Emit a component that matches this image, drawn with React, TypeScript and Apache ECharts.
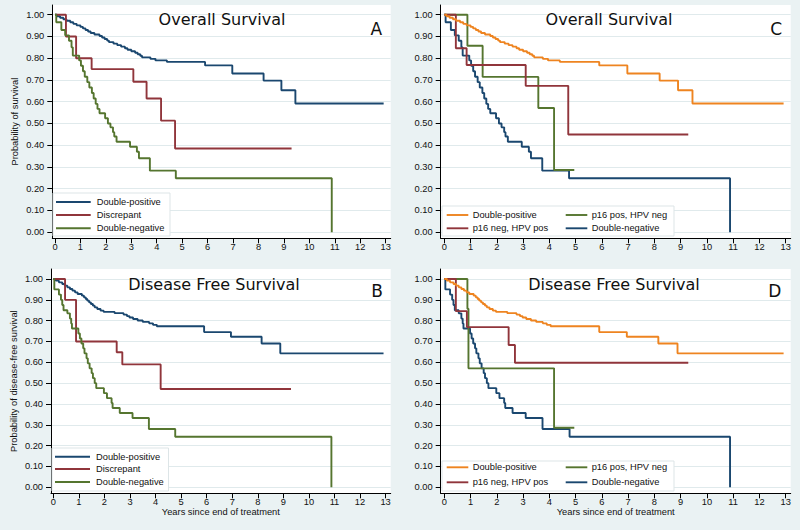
import React, { useEffect, useRef } from "react";
import * as echarts from "echarts";

// ---------- tick values ----------
const YEAR_TICKS = [0, 1, 2, 3, 4, 5, 6, 7, 8, 9, 10, 11, 12, 13];
const SURV_TICKS = [0, 0.1, 0.2, 0.3, 0.4, 0.5, 0.6, 0.7, 0.8, 0.9, 1.0];

// ---------- Overall survival (panels A and C) ----------
const osDoublePositive: [number, number][] = [
  [0, 1], [0.08, 0.993], [0.2, 0.986], [0.33, 0.979], [0.45, 0.972], [0.6, 0.965],
  [0.72, 0.958], [0.85, 0.951], [1.0, 0.944], [1.1, 0.937], [1.2, 0.93], [1.3, 0.923],
  [1.4, 0.916], [1.55, 0.909], [1.75, 0.902], [1.85, 0.895], [1.95, 0.888], [2.05, 0.881],
  [2.12, 0.874], [2.3, 0.867], [2.45, 0.86], [2.6, 0.853], [2.75, 0.846], [2.85, 0.839],
  [3.0, 0.832], [3.15, 0.825], [3.25, 0.818], [3.35, 0.811], [3.42, 0.804], [3.75, 0.797],
  [3.95, 0.79], [4.4, 0.783], [5.9, 0.767], [6.97, 0.73], [8.2, 0.697], [8.9, 0.653],
  [9.45, 0.592], [12.92, 0.592],
];
const osDiscrepant: [number, number][] = [
  [0, 1], [0.43, 0.9], [0.83, 0.8], [1.44, 0.75], [3.08, 0.692], [3.6, 0.615],
  [4.17, 0.513], [4.72, 0.385], [9.3, 0.385],
];
const osDoubleNegative: [number, number][] = [
  [0, 1], [0.05, 0.965], [0.25, 0.93], [0.4, 0.905], [0.55, 0.88], [0.65, 0.85],
  [0.7, 0.812], [0.95, 0.79], [1.02, 0.765], [1.1, 0.74], [1.17, 0.715], [1.27, 0.69],
  [1.35, 0.665], [1.45, 0.64], [1.52, 0.615], [1.6, 0.59], [1.67, 0.567], [1.75, 0.547],
  [1.97, 0.524], [2.08, 0.5], [2.18, 0.482], [2.28, 0.46], [2.33, 0.44], [2.42, 0.416],
  [2.95, 0.393], [3.22, 0.37], [3.3, 0.34], [3.73, 0.283], [4.75, 0.248], [10.88, 0],
];
const osP16NegHpvPos: [number, number][] = [
  [0, 1], [0.44, 0.846], [0.85, 0.769], [3.1, 0.673], [4.72, 0.449], [9.29, 0.449],
];
const osP16PosHpvNeg: [number, number][] = [
  [0, 1], [0.88, 0.857], [1.46, 0.714], [3.58, 0.571], [4.18, 0.286], [4.95, 0.286],
];

// ---------- Disease free survival (panels B and D) ----------
const dfsDoublePositive: [number, number][] = [
  [0, 1], [0.1, 0.992], [0.22, 0.984], [0.35, 0.976], [0.45, 0.968], [0.55, 0.96],
  [0.65, 0.952], [0.75, 0.944], [0.85, 0.936], [0.95, 0.928], [1.12, 0.92], [1.2, 0.912],
  [1.27, 0.904], [1.33, 0.896], [1.4, 0.888], [1.47, 0.88], [1.55, 0.872], [1.62, 0.864],
  [1.72, 0.856], [1.85, 0.848], [1.97, 0.842], [2.4, 0.836], [2.75, 0.829], [2.88, 0.822],
  [2.98, 0.815], [3.12, 0.808], [3.3, 0.801], [3.5, 0.794], [3.75, 0.787], [3.9, 0.78],
  [4.05, 0.773], [5.9, 0.745], [6.95, 0.723], [8.15, 0.69], [8.88, 0.643], [12.92, 0.643],
];
const dfsDiscrepant: [number, number][] = [
  [0, 1], [0.46, 0.9], [0.89, 0.7], [2.48, 0.648], [2.7, 0.59], [4.2, 0.472], [9.3, 0.472],
];
const dfsDoubleNegative: [number, number][] = [
  [0, 1], [0.04, 0.95], [0.22, 0.925], [0.3, 0.9], [0.35, 0.875], [0.4, 0.85],
  [0.55, 0.835], [0.65, 0.81], [0.7, 0.786], [0.73, 0.762], [0.98, 0.738], [1.04, 0.714],
  [1.1, 0.69], [1.17, 0.667], [1.22, 0.643], [1.3, 0.619], [1.35, 0.595], [1.42, 0.571],
  [1.5, 0.548], [1.55, 0.524], [1.62, 0.5], [1.68, 0.476], [1.98, 0.452], [2.1, 0.428],
  [2.28, 0.405], [2.32, 0.381], [2.6, 0.357], [3.1, 0.333], [3.74, 0.28], [4.77, 0.243],
  [10.88, 0],
];
const dfsP16NegHpvPos: [number, number][] = [
  [0, 1], [0.44, 0.846], [0.86, 0.769], [2.45, 0.683], [2.69, 0.598], [9.29, 0.598],
];
const dfsP16PosHpvNeg: [number, number][] = [
  [0, 1], [0.88, 0.857], [0.92, 0.571], [4.18, 0.286], [4.95, 0.286],
];

// ---------- labels ----------
const LABEL_DP = "Double-positive";
const LABEL_DISC = "Discrepant";
const LABEL_DN = "Double-negative";
const LABEL_NEG_POS = "p16 neg, HPV pos";
const LABEL_POS_NEG = "p16 pos, HPV neg";
const TITLE_OS = "Overall Survival";
const TITLE_DFS = "Disease Free Survival";
const X_TITLE = "Years since end of treatment";
const Y_TITLE_OS = "Probability of survival";
const Y_TITLE_DFS = "Probability of disease-free survival";

// ---------- styles ----------
const BG = "#eaf2f3";
const GRIDLINE = "#e0eaec";
const NAVY = "#1a476f";
const MAROON = "#90353b";
const GREEN = "#55752f";
const ORANGE = "#ee8420";
const INK = "#111111";
const SANS = "Liberation Sans";
const TITLE_FONT = "DejaVu Sans";
const FS = 9.3;
const LW = 1.9;

type Panel = {
  left: number; top: number; width: number; height: number;
  xMin: number; xMax: number; yMin: number; yMax: number;
  xName: string; yName: string;
};

const panels: Panel[] = [
  { left: 52.3, top: 5, width: 338.4, height: 233.3, xMin: -0.106, xMax: 13.197, yMin: -0.028, yMax: 1.0446, xName: "", yName: Y_TITLE_OS },
  { left: 440.7, top: 5, width: 350, height: 233.3, xMin: -0.137, xMax: 13.19, yMin: -0.028, yMax: 1.0446, xName: "", yName: "" },
  { left: 51, top: 269, width: 339.7, height: 224.3, xMin: -0.09, xMax: 13.2, yMin: -0.0288, yMax: 1.048, xName: X_TITLE, yName: Y_TITLE_DFS },
  { left: 440.7, top: 269, width: 350, height: 224.3, xMin: -0.137, xMax: 13.19, yMin: -0.0288, yMax: 1.048, xName: X_TITLE, yName: "" },
];

function makeSeries(name: string, data: [number, number][], color: string, idx: number) {
  return {
    type: "line",
    name,
    data,
    step: "end",
    xAxisIndex: idx,
    yAxisIndex: idx,
    showSymbol: false,
    symbol: "none",
    lineStyle: { color, width: LW },
    itemStyle: { color },
    silent: true,
    z: 3,
  };
}

function textEl(text: string, x: number, y: number, size: number, family: string, align = "left") {
  return {
    type: "text",
    x,
    y,
    silent: true,
    z: 10,
    style: {
      text,
      fill: INK,
      fontSize: size,
      fontFamily: family,
      align,
      verticalAlign: "middle",
      textAlign: align,
      textVerticalAlign: "middle",
    },
  };
}

function legend(box: [number, number, number, number], items: { label: string; color: string; x1: number; x2: number; tx: number; y: number }[]) {
  const els: any[] = [
    {
      type: "rect",
      silent: true,
      z: 8,
      shape: { x: box[0], y: box[1], width: box[2], height: box[3] },
      style: { fill: "#ffffff", stroke: "#dde5e7", lineWidth: 1 },
    },
  ];
  items.forEach((it) => {
    els.push({
      type: "line",
      silent: true,
      z: 9,
      shape: { x1: it.x1, y1: it.y, x2: it.x2, y2: it.y },
      style: { stroke: it.color, lineWidth: LW },
    });
    els.push(textEl(it.label, it.tx, it.y, FS, SANS));
  });
  return els;
}

export default function App() {
  const ref = useRef<HTMLDivElement>(null);

  useEffect(() => {
    if (!ref.current) return;
    const chart = echarts.init(ref.current, null, { renderer: "svg" });

    const grids = panels.map((p) => ({
      left: p.left, top: p.top, width: p.width, height: p.height,
      show: true, backgroundColor: "#ffffff", borderWidth: 0,
      containLabel: false, outerBoundsMode: "none",
    }));

    const xAxes = panels.map((p, i) => ({
      type: "value", gridIndex: i, min: p.xMin, max: p.xMax,
      axisLine: { show: true, onZero: false, lineStyle: { color: "#000", width: 1 } },
      axisTick: { show: true, length: 5, customValues: YEAR_TICKS, lineStyle: { color: "#000", width: 1 } },
      axisLabel: { show: true, customValues: YEAR_TICKS, fontSize: FS, fontFamily: SANS, color: INK, margin: 4, formatter: (v: number) => String(Math.round(v)) },
      splitLine: { show: false },
      name: p.xName, nameLocation: "middle", nameGap: 14,
      nameTextStyle: { fontSize: FS, fontFamily: SANS, color: INK },
    }));

    const yAxes = panels.map((p, i) => ({
      type: "value", gridIndex: i, min: p.yMin, max: p.yMax,
      axisLine: { show: true, onZero: false, lineStyle: { color: "#000", width: 1 } },
      axisTick: { show: true, length: 5, customValues: SURV_TICKS, lineStyle: { color: "#000", width: 1 } },
      axisLabel: { show: true, customValues: SURV_TICKS, fontSize: FS, fontFamily: SANS, color: INK, margin: 8, formatter: (v: number) => v.toFixed(2) },
      splitLine: { show: true, lineStyle: { color: GRIDLINE, width: 1.2 } },
      name: p.yName, nameLocation: "middle", nameGap: 33, nameRotate: 90,
      nameTextStyle: { fontSize: FS, fontFamily: SANS, color: INK },
    }));

    const series = [
      makeSeries(LABEL_DP, osDoublePositive, NAVY, 0),
      makeSeries(LABEL_DISC, osDiscrepant, MAROON, 0),
      makeSeries(LABEL_DN, osDoubleNegative, GREEN, 0),

      makeSeries(LABEL_DN, osDoubleNegative, NAVY, 1),
      makeSeries(LABEL_POS_NEG, osP16PosHpvNeg, GREEN, 1),
      makeSeries(LABEL_NEG_POS, osP16NegHpvPos, MAROON, 1),
      makeSeries(LABEL_DP, osDoublePositive, ORANGE, 1),

      makeSeries(LABEL_DP, dfsDoublePositive, NAVY, 2),
      makeSeries(LABEL_DISC, dfsDiscrepant, MAROON, 2),
      makeSeries(LABEL_DN, dfsDoubleNegative, GREEN, 2),

      makeSeries(LABEL_DN, dfsDoubleNegative, NAVY, 3),
      makeSeries(LABEL_POS_NEG, dfsP16PosHpvNeg, GREEN, 3),
      makeSeries(LABEL_NEG_POS, dfsP16NegHpvPos, MAROON, 3),
      makeSeries(LABEL_DP, dfsDoublePositive, ORANGE, 3),
    ];

    const graphic: any[] = [
      textEl(TITLE_OS, 222, 19.5, 16, TITLE_FONT, "center"),
      textEl("A", 376.3, 29, 17, TITLE_FONT, "center"),
      textEl(TITLE_OS, 609, 19.5, 16, TITLE_FONT, "center"),
      textEl("C", 776.3, 29, 17, TITLE_FONT, "center"),
      textEl(TITLE_DFS, 214, 284, 16, TITLE_FONT, "center"),
      textEl("B", 377, 290.5, 17, TITLE_FONT, "center"),
      textEl(TITLE_DFS, 614, 284, 16, TITLE_FONT, "center"),
      textEl("D", 774.7, 290.5, 17, TITLE_FONT, "center"),
      ...legend([53, 193, 117, 43], [
        { label: LABEL_DP, color: NAVY, x1: 56, x2: 90.7, tx: 96.7, y: 202 },
        { label: LABEL_DISC, color: MAROON, x1: 56, x2: 90.7, tx: 96.7, y: 215 },
        { label: LABEL_DN, color: GREEN, x1: 56, x2: 90.7, tx: 96.7, y: 228.3 },
      ]),
      ...legend([52, 448, 116.5, 43], [
        { label: LABEL_DP, color: NAVY, x1: 55, x2: 90, tx: 96, y: 456.7 },
        { label: LABEL_DISC, color: MAROON, x1: 55, x2: 90, tx: 96, y: 469 },
        { label: LABEL_DN, color: GREEN, x1: 55, x2: 90, tx: 96, y: 482 },
      ]),
      ...legend([442, 206, 232, 30], [
        { label: LABEL_DP, color: ORANGE, x1: 446.7, x2: 468.3, tx: 472.7, y: 215 },
        { label: LABEL_NEG_POS, color: MAROON, x1: 446.7, x2: 468.3, tx: 472.7, y: 228.3 },
        { label: LABEL_POS_NEG, color: GREEN, x1: 565.7, x2: 587.3, tx: 591.7, y: 215 },
        { label: LABEL_DN, color: NAVY, x1: 565.7, x2: 587.3, tx: 591.7, y: 228.3 },
      ]),
      ...legend([442, 461, 232, 30], [
        { label: LABEL_DP, color: ORANGE, x1: 446.7, x2: 468.3, tx: 472.7, y: 467.3 },
        { label: LABEL_NEG_POS, color: MAROON, x1: 446.7, x2: 468.3, tx: 472.7, y: 482.3 },
        { label: LABEL_POS_NEG, color: GREEN, x1: 565.7, x2: 587.3, tx: 591.7, y: 467.3 },
        { label: LABEL_DN, color: NAVY, x1: 565.7, x2: 587.3, tx: 591.7, y: 482.3 },
      ]),
    ];

    chart.setOption({
      animation: false,
      backgroundColor: BG,
      grid: grids,
      xAxis: xAxes,
      yAxis: yAxes,
      series,
      graphic,
      tooltip: { show: false },
    } as any);

    return () => {
      chart.dispose();
    };
  }, []);

  return (
    <div style={{ position: "fixed", left: 0, top: 0, width: 800, height: 530, background: BG }}>
      <div ref={ref} style={{ width: 800, height: 530 }} />
    </div>
  );
}
